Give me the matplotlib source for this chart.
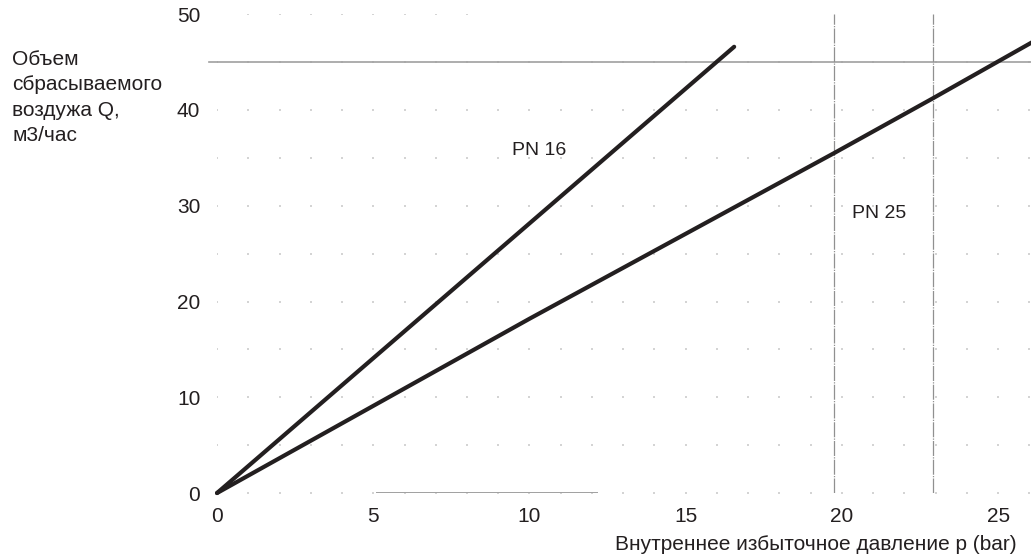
import matplotlib.pyplot as plt
import numpy as np

plt.rcParams['font.family'] = ['Liberation Sans', 'DejaVu Sans']

# PN 16 and PN 25 characteristic lines (pressure bar -> Q m3/h)
pn16_p = [0, 16.55]
pn16_q = [0, 46.6]
pn25_p = [0, 10, 19.75, 22.9, 26.1]
pn25_q = [0, 18.2, 35.5, 41.2, 47.1]

x_ticks = [0, 5, 10, 15, 20, 25]
y_ticks = [0, 10, 20, 30, 40, 50]
grid_x = np.arange(0, 27, 1)
grid_y = np.arange(5, 50, 5)

ref_q = 45              # horizontal reference line
ref_p = [19.75, 22.9]   # vertical reference lines

fig = plt.figure(figsize=(10.31, 5.6), dpi=100)
ax = fig.add_axes([0.2105, 0.1196, 0.7895, 0.855])
ax.set_xlim(0, 26.05)
ax.set_ylim(0, 50)

# faint dotted background grid
gx, gy = np.meshgrid(grid_x, grid_y)
dot = dict(s=0.8, color='#d4d4d4', marker='s', linewidths=0, zorder=1)
ax.scatter(gx.ravel(), gy.ravel(), **dot)
ax.scatter(grid_x[1:], np.zeros(len(grid_x) - 1), **dot)
ax.scatter(grid_x[1:9], np.full(8, 50), **dot)

# reference lines
ax.axhline(ref_q, color='#a0a0a0', lw=1.2, zorder=2, clip_on=False,
           xmin=-0.01)
for p in ref_p:
    ax.axvline(p, color='#909090', lw=0.9, ls=(0, (12, 1, 1, 1)), zorder=2)
ax.hlines(0, 5.1, 12.2, color='#a0a0a0', lw=1.4, zorder=2)

# characteristic lines
ax.plot(pn16_p, pn16_q, color='#231f20', lw=3.0, solid_capstyle='round',
        zorder=3, clip_on=False)
ax.plot(pn25_p, pn25_q, color='#231f20', lw=3.0, solid_capstyle='round',
        zorder=3, clip_on=False)

ax.text(10.3, 35.8, 'PN 16', fontsize=14, color='#231f20',
        ha='center', va='center')
ax.text(21.2, 29.2, 'PN 25', fontsize=14, color='#231f20',
        ha='center', va='center')

for s in ax.spines.values():
    s.set_visible(False)
ax.set_xticks(x_ticks)
ax.set_yticks(y_ticks)
ax.tick_params(length=0, labelsize=15, labelcolor='#231f20')
ax.tick_params(axis='x', pad=10)
ax.tick_params(axis='y', pad=12)

fig.text(1017 / 1031, 1 - 544 / 560,
         'Внутреннее избыточное давление p (bar)',
         fontsize=15, color='#231f20', ha='right', va='center')
fig.text(12 / 1031, 1 - 50 / 560,
         'Объем\nсбрасываемого\nвоздужа Q,\nм3/час',
         fontsize=15, color='#231f20', ha='left', va='top',
         linespacing=1.42)

fig.savefig('out.png', dpi=100)
